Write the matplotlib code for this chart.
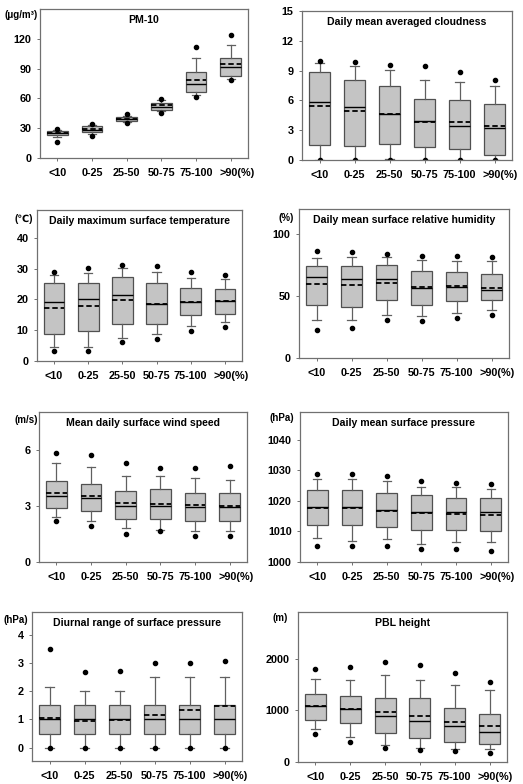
import matplotlib
matplotlib.use("Agg")
import matplotlib.pyplot as plt
from matplotlib.transforms import ScaledTranslation

plt.rcParams['font.family'] = ['Liberation Sans', 'DejaVu Sans']
plt.rcParams['font.weight'] = 'bold'

categories = ['<10', '0-25', '25-50', '50-75', '75-100', '>90(%)']

# each panel: 5th pct, lower whisker, Q1, median, Q3, upper whisker, 95th pct, mean
pm10_p5 = [16.5, 21.7, 35.3, 45.3, 61.7, 78.7]
pm10_lo = [21.3, 23.7, 36.3, 47.3, 63.3, 80.0]
pm10_q1 = [23.5, 26.0, 37.0, 48.3, 66.7, 82.7]
pm10_med = [25.3, 28.3, 39.3, 51.3, 74.3, 91.7]
pm10_q3 = [27.3, 32.3, 41.7, 55.7, 86.3, 101.0]
pm10_hi = [27.7, 33.0, 42.7, 58.7, 101.0, 114.0]
pm10_p95 = [28.7, 34.3, 44.3, 59.7, 111.7, 124.3]
pm10_mean = [25.0, 29.3, 39.7, 53.3, 79.0, 95.0]

cld_p5 = [0.0, 0.0, 0.05, 0.0, 0.0, 0.0]
cld_lo = [0.0, 0.0, 0.1, 0.0, 0.0, 0.0]
cld_q1 = [1.5, 1.4, 1.6, 1.3, 1.1, 0.55]
cld_med = [5.85, 5.3, 4.65, 3.9, 3.4, 3.2]
cld_q3 = [8.9, 8.1, 7.5, 6.1, 6.0, 5.6]
cld_hi = [9.8, 9.5, 9.1, 8.1, 7.9, 7.4]
cld_p95 = [9.95, 9.9, 9.6, 9.45, 8.9, 8.05]
cld_mean = [5.4, 4.95, 4.6, 3.85, 3.8, 3.4]

tmax_p5 = [3.2, 3.3, 6.2, 7.0, 9.6, 10.9]
tmax_lo = [4.6, 4.4, 7.5, 8.9, 11.3, 12.8]
tmax_q1 = [8.7, 9.6, 12.0, 11.9, 14.8, 15.3]
tmax_med = [19.0, 20.0, 21.4, 18.5, 19.3, 19.5]
tmax_q3 = [25.3, 25.3, 27.1, 25.2, 23.7, 23.5]
tmax_hi = [28.0, 28.7, 30.3, 29.0, 26.9, 26.7]
tmax_p95 = [29.0, 30.3, 31.0, 30.8, 28.8, 28.0]
tmax_mean = [17.3, 17.8, 19.7, 18.5, 19.3, 19.5]

rh_p5 = [22.3, 24.5, 30.6, 30.1, 32.5, 34.4]
rh_lo = [30.6, 30.6, 35.0, 33.9, 36.6, 38.7]
rh_q1 = [42.7, 40.9, 46.5, 42.7, 46.0, 46.8]
rh_med = [65.6, 63.7, 63.7, 56.5, 57.3, 55.1]
rh_q3 = [74.2, 73.9, 74.7, 70.2, 69.6, 68.0]
rh_hi = [80.9, 81.5, 81.5, 79.0, 78.2, 78.2]
rh_p95 = [86.0, 85.5, 83.9, 82.5, 82.0, 81.2]
rh_mean = [60.0, 58.9, 60.8, 57.0, 57.8, 56.7]

ws_p5 = [2.2, 1.91, 1.49, 1.63, 1.4, 1.4]
ws_lo = [2.39, 2.19, 1.82, 1.73, 1.68, 1.68]
ws_q1 = [2.9, 2.7, 2.32, 2.32, 2.19, 2.19]
ws_med = [3.5, 3.42, 2.97, 2.99, 2.92, 2.92]
ws_q3 = [4.3, 4.16, 3.8, 3.9, 3.68, 3.68]
ws_hi = [5.3, 5.08, 4.57, 4.57, 4.46, 4.39]
ws_p95 = [5.84, 5.73, 5.3, 5.04, 5.03, 5.1]
ws_mean = [3.7, 3.54, 3.13, 3.1, 3.03, 2.97]

sp_p5 = [1005.1, 1005.1, 1005.1, 1004.1, 1004.1, 1003.6]
sp_lo = [1007.7, 1007.0, 1007.6, 1006.0, 1006.5, 1006.5]
sp_q1 = [1012.0, 1012.0, 1011.4, 1010.5, 1010.5, 1010.1]
sp_med = [1018.0, 1018.0, 1017.0, 1016.3, 1016.4, 1016.4]
sp_q3 = [1023.5, 1023.5, 1022.5, 1022.0, 1021.0, 1021.0]
sp_hi = [1027.2, 1027.0, 1026.5, 1024.5, 1024.5, 1024.0]
sp_p95 = [1028.7, 1028.7, 1028.2, 1026.3, 1025.8, 1025.5]
sp_mean = [1017.5, 1017.7, 1016.7, 1016.1, 1015.8, 1015.4]

dr_p5 = [0.0, 0.0, 0.0, 0.0, 0.0, 0.0]
dr_lo = [0.0, 0.0, 0.0, 0.0, 0.0, 0.0]
dr_q1 = [0.5, 0.5, 0.5, 0.5, 0.5, 0.5]
dr_med = [1.0, 1.0, 1.0, 1.0, 1.0, 1.0]
dr_q3 = [1.5, 1.5, 1.5, 1.5, 1.5, 1.5]
dr_hi = [2.15, 2.0, 2.0, 2.5, 2.5, 2.5]
dr_p95 = [3.5, 2.67, 2.73, 3.0, 3.0, 3.07]
dr_mean = [1.06, 0.96, 0.99, 1.15, 1.32, 1.49]

pbl_p5 = [542, 393, 264, 226, 206, 180]
pbl_lo = [639, 477, 329, 264, 245, 245]
pbl_q1 = [813, 755, 555, 458, 393, 342]
pbl_med = [1090, 1019, 897, 800, 697, 587]
pbl_q3 = [1322, 1271, 1232, 1245, 1051, 922]
pbl_hi = [1606, 1587, 1677, 1580, 1490, 1387]
pbl_p95 = [1793, 1832, 1941, 1877, 1722, 1548]
pbl_mean = [1090, 1032, 961, 890, 780, 697]

W, H = 523, 784


def make_stats(p5, lo, q1, med, q3, hi, p95, mean):
    stats = []
    for i in range(len(med)):
        stats.append(dict(whislo=lo[i], q1=q1[i], med=med[i], q3=q3[i],
                          whishi=hi[i], mean=mean[i], fliers=[p5[i], p95[i]]))
    return stats


def panel(fig, rect, stats, ylim, yticks, title, unit=None, unit_xy=None):
    l, t, r, b = rect
    ax = fig.add_axes([l / W, 1 - b / H, (r - l) / W, (b - t) / H])
    ax.bxp(stats, positions=range(1, 7), widths=0.6, patch_artist=True,
           showmeans=True, meanline=True,
           boxprops=dict(facecolor='#c4c4c4', edgecolor='#505050', linewidth=0.9),
           whiskerprops=dict(color='#606060', linewidth=0.9),
           capprops=dict(color='#606060', linewidth=0.9),
           capwidths=0.24,
           medianprops=dict(color='black', linewidth=1.0),
           meanprops=dict(color='black', linewidth=1.3, linestyle=(0, (3, 1.6))),
           flierprops=dict(marker='o', markersize=3, markerfacecolor='black',
                           markeredgecolor='black'))
    ax.set_xlim(0.5, 6.5)
    ax.set_ylim(*ylim)
    ax.set_yticks(yticks)
    ax.set_xticks(range(1, 7))
    ax.set_xticklabels(categories)
    ax.tick_params(axis='both', labelsize=7.8, length=2, color='#707070', width=0.7)
    ax.tick_params(axis='x', pad=5)
    ax.tick_params(axis='y', pad=4)
    for lab in ax.get_xticklabels() + ax.get_yticklabels():
        lab.set_fontweight('bold')
    # the "(%)" suffix pushes the last label a little to the right
    last = ax.get_xticklabels()[-1]
    last.set_transform(last.get_transform() + ScaledTranslation(6 / 100, 0, fig.dpi_scale_trans))
    for sp in ax.spines.values():
        sp.set_color('#707070')
        sp.set_linewidth(0.9)
    ax.text(0.5, 1 - 11 / (b - t), title, transform=ax.transAxes,
            ha='center', va='center', fontsize=7.6, fontweight='bold')
    if unit:
        fig.text(unit_xy[0] / W, 1 - unit_xy[1] / H, unit, ha='center',
                 va='center', fontsize=7, fontweight='bold')
    return ax


fig = plt.figure(figsize=(W / 100, H / 100), dpi=100)

panel(fig, (40, 9, 248, 158),
      make_stats(pm10_p5, pm10_lo, pm10_q1, pm10_med, pm10_q3, pm10_hi, pm10_p95, pm10_mean),
      (0, 150), [0, 30, 60, 90, 120], 'PM-10', '(μg/m³)', (21, 15))
panel(fig, (302, 11, 512, 160),
      make_stats(cld_p5, cld_lo, cld_q1, cld_med, cld_q3, cld_hi, cld_p95, cld_mean),
      (0, 15), [0, 3, 6, 9, 12, 15], 'Daily mean averaged cloudness')
panel(fig, (37, 210, 242, 361),
      make_stats(tmax_p5, tmax_lo, tmax_q1, tmax_med, tmax_q3, tmax_hi, tmax_p95, tmax_mean),
      (0, 49), [0, 10, 20, 30, 40], 'Daily maximum surface temperature', '(℃)', (24, 219))
panel(fig, (299, 209, 509, 358),
      make_stats(rh_p5, rh_lo, rh_q1, rh_med, rh_q3, rh_hi, rh_p95, rh_mean),
      (0, 120), [0, 50, 100], 'Daily mean surface relative humidity', '(%)', (286, 218))
panel(fig, (39, 412, 247, 562),
      make_stats(ws_p5, ws_lo, ws_q1, ws_med, ws_q3, ws_hi, ws_p95, ws_mean),
      (0, 8), [0, 3, 6], 'Mean daily surface wind speed', '(m/s)', (26, 420))
panel(fig, (300, 412, 508, 562),
      make_stats(sp_p5, sp_lo, sp_q1, sp_med, sp_q3, sp_hi, sp_p95, sp_mean),
      (1000, 1049), [1000, 1010, 1020, 1030, 1040], 'Daily mean surface pressure',
      '(hPa)', (282, 418))
panel(fig, (32, 612, 242, 761),
      make_stats(dr_p5, dr_lo, dr_q1, dr_med, dr_q3, dr_hi, dr_p95, dr_mean),
      (-0.47, 4.8), [0, 1, 2, 3, 4], 'Diurnal range of surface pressure', '(hPa)', (16, 620))
panel(fig, (298, 612, 507, 762),
      make_stats(pbl_p5, pbl_lo, pbl_q1, pbl_med, pbl_q3, pbl_hi, pbl_p95, pbl_mean),
      (0, 2900), [0, 1000, 2000], 'PBL height', '(m)', (280, 618))

fig.savefig('out.png', dpi=100)
